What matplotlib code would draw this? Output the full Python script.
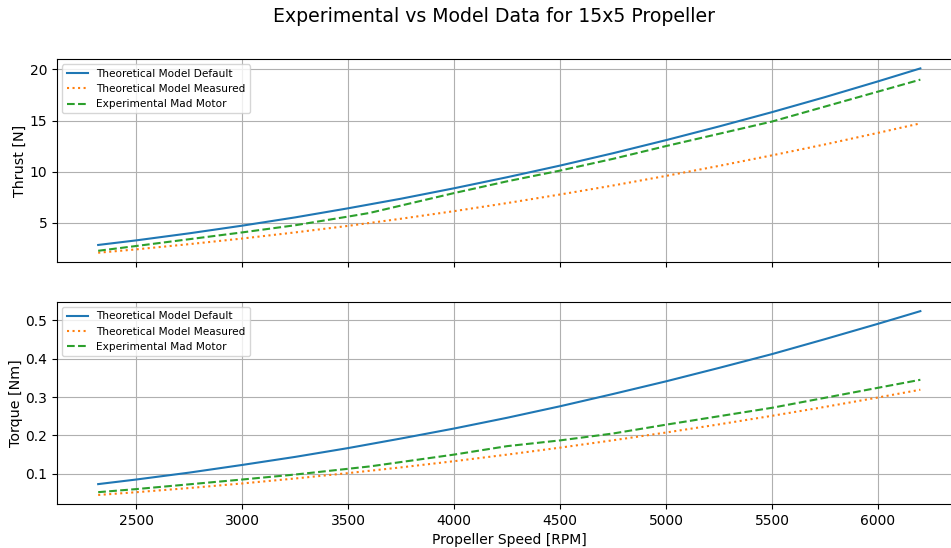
import matplotlib
matplotlib.use("Agg")
import matplotlib.pyplot as plt

# Theoretical model curves (propeller speed in RPM)
rpm_model = [2320, 2500, 2750, 3000, 3250, 3500, 3750, 4000, 4250,
             4500, 4750, 5000, 5250, 5500, 5750, 6000, 6200]
thrust_default = [2.82, 3.27, 3.96, 4.71, 5.52, 6.41, 7.35, 8.37, 9.45,
                  10.59, 11.80, 13.08, 14.42, 15.82, 17.29, 18.83, 20.10]
thrust_measured = [2.06, 2.39, 2.90, 3.45, 4.05, 4.69, 5.39, 6.13, 6.92,
                   7.76, 8.64, 9.58, 10.56, 11.59, 12.66, 13.79, 14.72]
torque_default = [0.073, 0.085, 0.103, 0.123, 0.144, 0.167, 0.192, 0.218, 0.246,
                  0.276, 0.308, 0.341, 0.376, 0.412, 0.451, 0.491, 0.524]
torque_measured = [0.0447, 0.0519, 0.0628, 0.0747, 0.0877, 0.1017, 0.1167, 0.1328, 0.1499,
                   0.1681, 0.1873, 0.2075, 0.2288, 0.2511, 0.2744, 0.2988, 0.3191]

# Bench test with the Mad Motor
rpm_exp = [2320, 2500, 3000, 3250, 3500, 3600, 4000, 4250, 4500, 4750, 5000, 5500, 6200]
thrust_exp = [2.25, 2.72, 4.05, 4.75, 5.60, 5.95, 7.90, 9.05, 10.10, 11.25, 12.50, 14.90, 19.00]
torque_exp = [0.052, 0.060, 0.085, 0.098, 0.113, 0.119, 0.150, 0.172, 0.187, 0.205, 0.228, 0.272, 0.345]

labels = ["Theoretical Model Default", "Theoretical Model Measured", "Experimental Mad Motor"]

fig = plt.figure(figsize=(9.51, 5.48), dpi=100)
ax1 = fig.add_axes([0.060, 0.522, 0.951, 0.370])
ax2 = fig.add_axes([0.060, 0.080, 0.951, 0.369], sharex=ax1)

ax1.plot(rpm_model, thrust_default, "-", color="C0", label=labels[0])
ax1.plot(rpm_model, thrust_measured, ":", color="C1", label=labels[1])
ax1.plot(rpm_exp, thrust_exp, "--", color="C2", label=labels[2])
ax1.set_ylabel("Thrust [N]", fontsize=10.3, labelpad=2)

ax2.plot(rpm_model, torque_default, "-", color="C0", label=labels[0])
ax2.plot(rpm_model, torque_measured, ":", color="C1", label=labels[1])
ax2.plot(rpm_exp, torque_exp, "--", color="C2", label=labels[2])
ax2.set_ylabel("Torque [Nm]", fontsize=10.3, labelpad=2)
ax2.set_xlabel("Propeller Speed [RPM]")

for ax in (ax1, ax2):
    ax.grid(True)
    ax.legend(loc="upper left", fontsize=7.6)

plt.setp(ax1.get_xticklabels(), visible=False)
fig.suptitle("Experimental vs Model Data for 15x5 Propeller", fontsize=13.6,
             x=0.519, y=0.987)

fig.savefig("out.png", dpi=100)
